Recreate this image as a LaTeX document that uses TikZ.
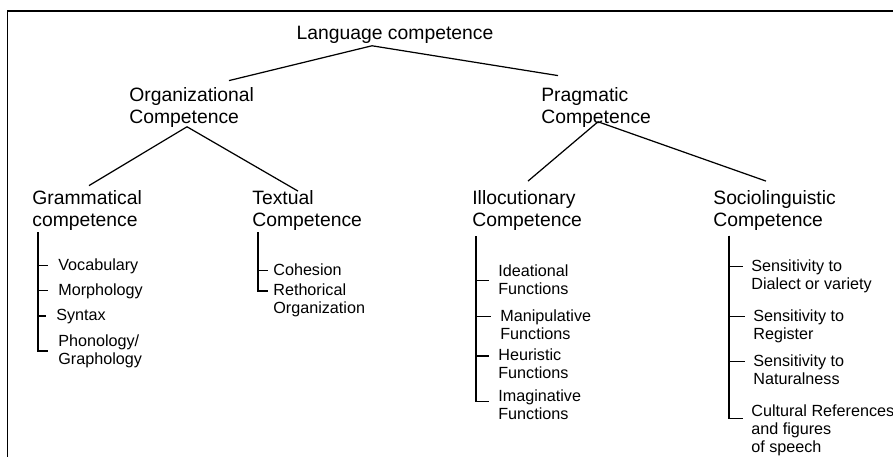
\documentclass[tikz,border=0pt]{standalone}
\usepackage{fontspec}
\setmainfont{Liberation Sans}
\usetikzlibrary{positioning}
\tikzset{
  head/.style={font=\fontsize{11}{12.2}\selectfont, align=left, inner xsep=0pt, inner ysep=1pt, anchor=mid west},
  leaf/.style={font=\fontsize{9.2}{10.3}\selectfont, align=left, inner sep=0pt, anchor=north west},
  limb/.style={line width=0.7pt},
  twig/.style={line width=0.7pt, shorten >=#1},
  twig/.default=0.18cm
}
\begin{document}
\begin{tikzpicture}
\useasboundingbox (0,0) rectangle (17.86,-9.14);
% frame
\draw[line width=1.1pt] (17.86,-0.22) -- (0.15,-0.22) -- (0.15,-9.14);
% upper levels
\node[head, anchor=center] at (7.9,-0.7) (lang) {Language competence};
\node[head] at (2.58,-2.37) (org) {Organizational\\Competence};
\node[head] at (10.82,-2.37) (prag) {Pragmatic\\Competence};
\node[head] at (0.64,-4.43) (gram) {Grammatical\\competence};
\node[head] at (5.04,-4.43) (text) {Textual\\Competence};
\node[head] at (9.44,-4.43) (illo) {Illocutionary\\Competence};
\node[head] at (14.26,-4.43) (socio) {Sociolinguistic\\Competence};
\draw[limb] ([xshift=-0.46cm]lang.south) -- ([shift={(2.0,0.1)}]org.north west);
\draw[limb] ([xshift=-0.46cm]lang.south) -- ([shift={(0.34,0.2)}]prag.north west);
\draw[limb] ([shift={(1.16,0.05)}]org.south west) -- ([shift={(1.14,0.06)}]gram.north west);
\draw[limb] ([shift={(1.16,0.05)}]org.south west) -- ([shift={(0.92,-0.05)}]text.north west);
\draw[limb] ([shift={(1.14,0.15)}]prag.south west) -- ([shift={(1.12,0.15)}]illo.north west);
\draw[limb] ([shift={(1.14,0.15)}]prag.south west) -- ([shift={(1.06,0.15)}]socio.north west);
% grammatical
\node[leaf] at (1.16,-5.16) (voc) {Vocabulary};
\node[leaf] at (1.16,-5.66) (mor) {Morphology};
\node[leaf] at (1.12,-6.17) (syn) {Syntax};
\node[leaf] at (1.16,-6.69) (pho) {Phonology/\\Graphology};
\foreach \leafname/\drop in {voc/0.15,mor/0.15,syn/0.15,pho/0.33}
  \draw[twig=0.2cm] ([xshift=0.12cm]gram.south west) |- ([yshift=-\drop cm]\leafname.north west);
% textual
\node[leaf] at (5.46,-5.26) (coh) {Cohesion};
\node[leaf] at (5.46,-5.67) (ret) {Rethorical\\Organization};
\foreach \leafname in {coh,ret}
  \draw[twig=0.1cm] ([xshift=0.12cm]text.south west) |- ([yshift=-0.15cm]\leafname.north west);
% illocutionary
\node[leaf] at (9.96,-5.28) (ide) {Ideational\\Functions};
\node[leaf] at (10.0,-6.18) (man) {Manipulative\\Functions};
\node[leaf] at (9.96,-6.97) (heu) {Heuristic\\Functions};
\node[leaf] at (9.96,-7.78) (ima) {Imaginative\\Functions};
\foreach \leafname/\drop in {ide/0.33,man/0.15,heu/0.15,ima/0.25}
  \draw[twig] ([shift={(0.08,-0.08)}]illo.south west) |- ([yshift=-\drop cm]\leafname.north west);
% sociolinguistic
\node[leaf] at (15.02,-5.18) (sd) {Sensitivity to\\Dialect or variety};
\node[leaf] at (15.06,-6.18) (sr) {Sensitivity to\\Register};
\node[leaf] at (15.06,-7.08) (sn) {Sensitivity to\\Naturalness};
\node[leaf] at (15.02,-8.08) (cr) {Cultural References\\and figures\\of speech};
\foreach \leafname/\drop in {sd/0.15,sr/0.15,sn/0.15,cr/0.29}
  \draw[twig=0.16cm] ([shift={(0.32,-0.07)}]socio.south west) |- ([yshift=-\drop cm]\leafname.north west);
\end{tikzpicture}
\end{document}
